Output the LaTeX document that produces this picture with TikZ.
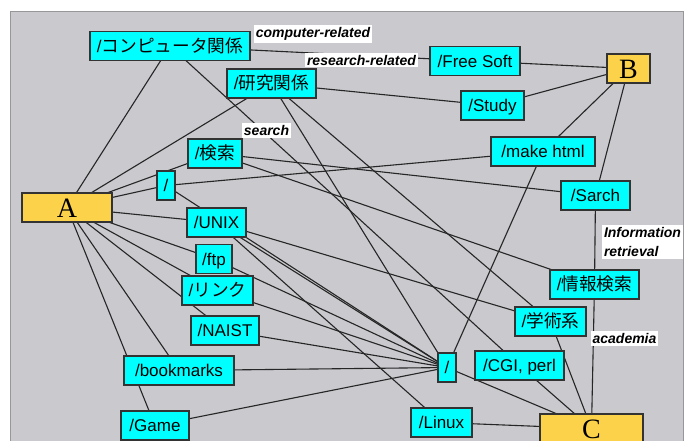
\documentclass[tikz,border=0pt]{standalone}
\usepackage{fontspec}
\setmainfont{Liberation Sans}
\newfontfamily\jp[Scale=1.04]{Noto Sans CJK JP}
\newfontfamily\abcfont{Liberation Serif}
\definecolor{dircyan}{RGB}{0,255,255}
\definecolor{usergold}{RGB}{252,210,74}
\definecolor{panelgray}{RGB}{201,201,206}
\pgfdeclarelayer{back}
\pgfdeclarelayer{wires}
\pgfsetlayers{back,wires,main}

\begin{document}
\begin{tikzpicture}[x=1pt,y=-1pt,
  dirbox/.style={draw=black!80,line width=1.3pt,fill=dircyan,minimum height=29pt,inner xsep=4pt,inner ysep=0pt,text height=14pt,text depth=2pt,font=\fontsize{17}{19}\selectfont},
  userbox/.style={draw=black!80,line width=1.3pt,fill=usergold,minimum height=29pt,inner sep=0pt,text height=19pt,text depth=0pt,font=\abcfont\fontsize{28}{30}\selectfont},
  tagbox/.style={fill=white,inner xsep=2pt,inner ysep=2pt,font=\fontsize{14}{19}\selectfont\bfseries\itshape},
  wire/.style={line width=1.1pt,draw=black!85}]
\useasboundingbox (0,0) rectangle (690,440);

\begin{pgfonlayer}{back}
\fill[white] (0,0) rectangle (690,440);
\filldraw[fill=panelgray,draw=panelgray!75!black,line width=0.8pt] (10,11) rectangle (683,445);
\end{pgfonlayer}

% user A
\node[userbox,minimum width=90pt] (A) at (67,207.5) {A};
\node[dirbox,minimum width=160pt] (komp) at (170,46) {/{\jp コンピュータ関係}};
\node[dirbox,minimum width=89pt] (kenkyu) at (271.5,83.5) {/{\jp 研究関係}};
\node[dirbox,minimum width=54pt] (kensaku) at (215,153.5) {/{\jp 検索}};
\node[dirbox,minimum width=18pt] (slashA) at (166,185.5) {/};
\node[dirbox,minimum width=59pt] (unix) at (216.5,222.5) {/UNIX};
\node[dirbox,minimum width=36pt] (ftp) at (214,259) {/ftp};
\node[dirbox,minimum width=71pt] (link) at (217.5,290.5) {/{\jp リンク}};
\node[dirbox,minimum width=68pt] (naist) at (225,330.5) {/NAIST};
\node[dirbox,minimum width=110pt] (bookmarks) at (179,370.5) {/bookmarks};
\node[dirbox,minimum width=68pt] (game) at (155,425.5) {/Game};

% user B
\node[userbox,minimum width=43pt] (B) at (628.5,68.5) {B};
\node[dirbox,minimum width=90pt] (freesoft) at (475,61) {/Free Soft};
\node[dirbox,minimum width=63pt] (study) at (492.5,105.5) {/Study};
\node[dirbox,minimum width=104pt] (makehtml) at (543,151.5) {/make html};
\node[dirbox,minimum width=69pt] (sarch) at (595.5,195.5) {/Sarch};

% user C
\node[userbox,minimum width=103pt] (C) at (591.5,428.5) {C};
\node[dirbox,minimum width=89pt] (jouhou) at (594.5,284.5) {/{\jp 情報検索}};
\node[dirbox,minimum width=71pt] (gakujutsu) at (550.5,321.5) {/{\jp 学術系}};
\node[dirbox,minimum width=89pt] (cgi) at (519.5,365.5) {/CGI, perl};
\node[dirbox,minimum width=18pt] (slashC) at (447,367.5) {/};
\node[dirbox,minimum width=61pt] (linux) at (441.5,422.5) {/Linux};

% translations
\node[tagbox] (lblcomp) at (313,34) {computer-related};
\node[tagbox] (lblres) at (361.5,60) {research-related};
\node[tagbox] (lblsearch) at (266.5,130.5) {search};
\node[tagbox,align=left] (lblinfo) at (642.5,242) {Information\\retrieval};
\node[tagbox] (lblacad) at (624.5,338.5) {academia};

\begin{pgfonlayer}{wires}
\draw[wire] (A.center) -- (komp.center);
\draw[wire] (A.center) -- (kenkyu.center);
\draw[wire] (A.center) -- (kensaku.center);
\draw[wire] (A.center) -- (slashA.center);
\draw[wire] (A.center) -- (unix.center);
\draw[wire] (A.center) -- (ftp.center);
\draw[wire] (A.center) -- (link.center);
\draw[wire] (A.center) -- (naist.center);
\draw[wire] (A.center) -- (bookmarks.center);
\draw[wire] (A.center) -- (game.center);

\draw[wire] (B.center) -- (freesoft.center);
\draw[wire] (B.center) -- (study.center);
\draw[wire] (B.center) -- (makehtml.center);
\draw[wire] (B.center) -- (sarch.center);

\draw[wire] (C.center) -- (jouhou.center);
\draw[wire] (jouhou.center) -- (sarch.center);
\draw[wire] (C.center) -- (gakujutsu.center);
\draw[wire] (C.center) -- (cgi.center);
\draw[wire] (C.center) -- (slashC.center);
\draw[wire] (C.center) -- (linux.center);

\draw[wire] (komp.center) -- (freesoft.center);
\draw[wire] (komp.center) -- (cgi.center);
\draw[wire] (kenkyu.center) -- (study.center);
\draw[wire] (kenkyu.center) -- (gakujutsu.center);
\draw[wire] (kenkyu.center) -- (slashC.center);
\draw[wire] (kensaku.center) -- (sarch.center);
\draw[wire] (kensaku.center) -- (jouhou.center);
\draw[wire] (slashA.center) -- (makehtml.center);
\draw[wire] (slashA.center) -- (slashC.center);
\draw[wire] (unix.center) -- (gakujutsu.center);
\draw[wire] (unix.center) -- (slashC.center);
\draw[wire] (unix.center) -- (linux.center);
\draw[wire] (ftp.center) -- (slashC.center);
\draw[wire] (link.center) -- (slashC.center);
\draw[wire] (naist.center) -- (slashC.center);
\draw[wire] (bookmarks.center) -- (slashC.center);
\draw[wire] (game.center) -- (slashC.center);
\draw[wire] (slashC.center) -- (makehtml.center);
\end{pgfonlayer}
\end{tikzpicture}
\end{document}
